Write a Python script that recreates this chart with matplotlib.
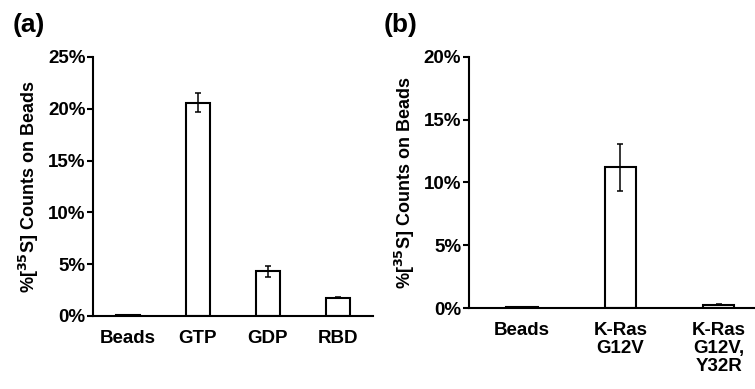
import matplotlib

matplotlib.use("Agg")
import matplotlib.pyplot as plt
from matplotlib.ticker import PercentFormatter

plt.rcParams["font.family"] = ["Liberation Sans", "DejaVu Sans"]
plt.rcParams["font.weight"] = "bold"

# panel (a): pull-down with nucleotide-loaded beads
labels_a = ["Beads", "GTP", "GDP", "RBD"]
values_a = [0.05, 20.6, 4.3, 1.75]
errors_a = [0.0, 0.95, 0.5, 0.06]

# panel (b): K-Ras mutants
labels_b = ["Beads", "K-Ras\nG12V", "K-Ras\nG12V,\nY32R"]
values_b = [0.05, 11.2, 0.25]
errors_b = [0.0, 1.87, 0.03]

ylabel = "%[$^{35}$S] Counts on Beads"
FS = 13.5

fig = plt.figure(figsize=(7.55, 3.89), dpi=100)
ax_a = fig.add_axes([0.1232, 0.1877, 0.3708, 0.6658])
ax_b = fig.add_axes([0.6212, 0.2082, 0.3788, 0.6453])


def draw_panel(ax, labels, values, errors, ymax, xlim, width):
    x = range(len(labels))
    ax.bar(x, values, width=width, color="white", edgecolor="black", linewidth=1.5, zorder=2)
    ax.errorbar(x, values, yerr=errors, fmt="none", ecolor="black", elinewidth=1.1,
                capsize=2.5, capthick=1.1, zorder=3)
    ax.set_xlim(*xlim)
    ax.set_ylim(0, ymax)
    ax.set_yticks(range(0, ymax + 1, 5))
    ax.yaxis.set_major_formatter(PercentFormatter(decimals=0))
    ax.set_xticks(list(x))
    ax.set_xticklabels(labels, fontsize=FS, fontweight="bold", linespacing=1.08)
    ax.tick_params(axis="x", length=0, pad=10)
    ax.tick_params(axis="y", direction="out", length=4, width=1.5, labelsize=FS, pad=1.5)
    for label in ax.get_yticklabels():
        label.set_fontweight("bold")
    ax.spines["top"].set_visible(False)
    ax.spines["right"].set_visible(False)
    ax.spines["left"].set_linewidth(1.5)
    ax.spines["bottom"].set_linewidth(1.5)
    ax.set_ylabel(ylabel, fontsize=13, fontweight="bold", labelpad=5)


draw_panel(ax_a, labels_a, values_a, errors_a, 25, (-0.5, 3.5), 0.33)
draw_panel(ax_b, labels_b, values_b, errors_b, 20, (-0.54, 2.37), 0.32)

fig.text(0.017, 0.935, "(a)", fontsize=19, fontweight="bold", va="center", ha="left")
fig.text(0.508, 0.935, "(b)", fontsize=19, fontweight="bold", va="center", ha="left")

fig.savefig("out.png", dpi=100)
